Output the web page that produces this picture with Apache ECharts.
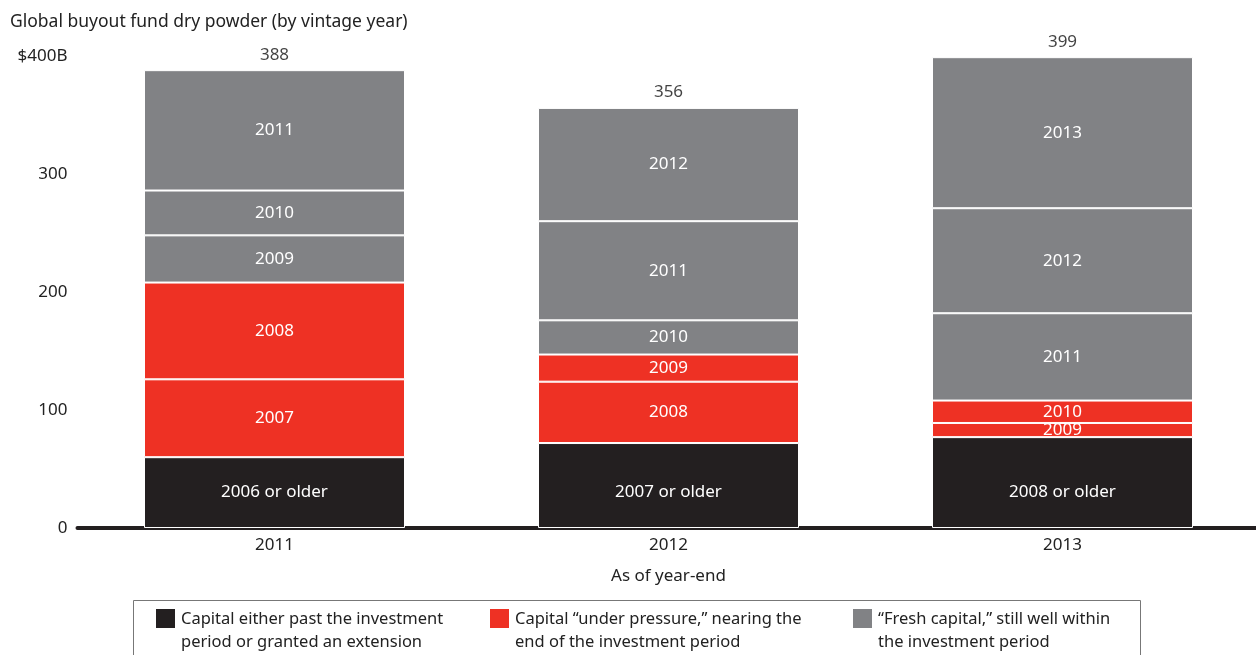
<!DOCTYPE html>
<html>
<head>
<meta charset="utf-8">
<script src="https://cdn.jsdelivr.net/npm/echarts@6/dist/echarts.min.js"></script>
<style>
  html, body { margin: 0; padding: 0; background: #fff; }
  #chart { width: 1256px; height: 655px; }
</style>
</head>
<body>
<div id="chart"></div>
<script>
// data
var years = ['2011', '2012', '2013'];
var totals = [388, 356, 399];
// stack layers, bottom to top
var layer1 = [60, 72, 77];   // black
var layer2 = [66, 52, 12];   // red
var layer3 = [82, 23, 19];   // red
var layer4 = [40, 29, 74];   // gray
var layer5 = [38, 84, 89];   // gray
var layer6 = [102, 96, 128]; // gray
// segment labels per layer
var names1 = ['2006 or older', '2007 or older', '2008 or older'];
var names2 = ['2007', '2008', '2009'];
var names3 = ['2008', '2009', '2010'];
var names4 = ['2009', '2010', '2011'];
var names5 = ['2010', '2011', '2012'];
var names6 = ['2011', '2012', '2013'];
var legendTexts = [
    'Capital either past the investment\nperiod or granted an extension',
    'Capital \u201cunder pressure,\u201d nearing the\nend of the investment period',
    '\u201cFresh capital,\u201d still well within\nthe investment period'
];

var BLACK = '#231f20';
var RED = '#ee3124';
var GRAY = '#818285';
var FONT = 'Noto Sans';

var chart = echarts.init(document.getElementById('chart'));

function layer(values, labels, color, bottomLabel) {
    return {
        type: 'bar',
        stack: 'total',
        barWidth: 261,
        data: values,
        itemStyle: { color: color, borderColor: '#fff', borderWidth: 1 },
        label: {
            show: true,
            position: bottomLabel ? 'insideBottom' : 'inside',
            distance: bottomLabel ? 27 : 5,
            color: '#fff',
            fontSize: 17,
            fontFamily: FONT,
            formatter: function (p) { return labels[p.dataIndex]; }
        },
        emphasis: { disabled: true }
    };
}

var legendGraphics = [
    { type: 'rect', shape: { x: 133.5, y: 600.5, width: 1007, height: 70 },
      style: { fill: 'none', stroke: '#777', lineWidth: 1 } }
];
var legendColors = [BLACK, RED, GRAY];
var legendX = [156, 490, 853];
for (var i = 0; i < 3; i++) {
    legendGraphics.push({ type: 'rect', shape: { x: legendX[i], y: 609, width: 19, height: 19 },
        style: { fill: legendColors[i] } });
    legendGraphics.push({ type: 'text', x: legendX[i] + 25, y: 608,
        style: { text: legendTexts[i], fill: '#222', font: '16.5px ' + FONT, lineHeight: 23 } });
}

var option = {
    animation: false,
    title: {
        text: 'Global buyout fund dry powder (by vintage year)',
        left: 5,
        top: 8,
        textStyle: { fontSize: 17.5, fontWeight: 'normal', color: '#222', fontFamily: FONT }
    },
    grid: { left: 77.5, width: 1182, top: 56, bottom: 127, outerBoundsMode: 'none' },
    xAxis: {
        type: 'category',
        data: years,
        axisLine: { lineStyle: { color: BLACK, width: 4 } },
        axisTick: { show: false },
        axisLabel: { color: '#222', fontSize: 17, fontFamily: FONT, margin: 9 },
        name: 'As of year-end',
        nameLocation: 'middle',
        nameGap: 40,
        nameTextStyle: { color: '#222', fontSize: 17, fontFamily: FONT, verticalAlign: 'top' }
    },
    yAxis: {
        type: 'value',
        min: 0,
        max: 400,
        interval: 100,
        axisLine: { show: false },
        axisTick: { show: false },
        splitLine: { show: false },
        axisLabel: {
            color: '#222', fontSize: 17, fontFamily: FONT, margin: 10,
            formatter: function (v) { return v === 400 ? '$400B' : v; }
        }
    },
    series: [
        layer(layer1, names1, BLACK, true),
        layer(layer2, names2, RED),
        layer(layer3, names3, RED),
        layer(layer4, names4, GRAY),
        layer(layer5, names5, GRAY),
        layer(layer6, names6, GRAY),
        {
            type: 'scatter',
            data: totals,
            symbolSize: 0,
            label: {
                show: true,
                position: 'top',
                distance: 7,
                color: '#111',
                fontSize: 17,
                fontFamily: FONT,
                formatter: function (p) { return totals[p.dataIndex]; }
            }
        }
    ],
    graphic: legendGraphics
};

chart.setOption(option);
</script>
</body>
</html>
